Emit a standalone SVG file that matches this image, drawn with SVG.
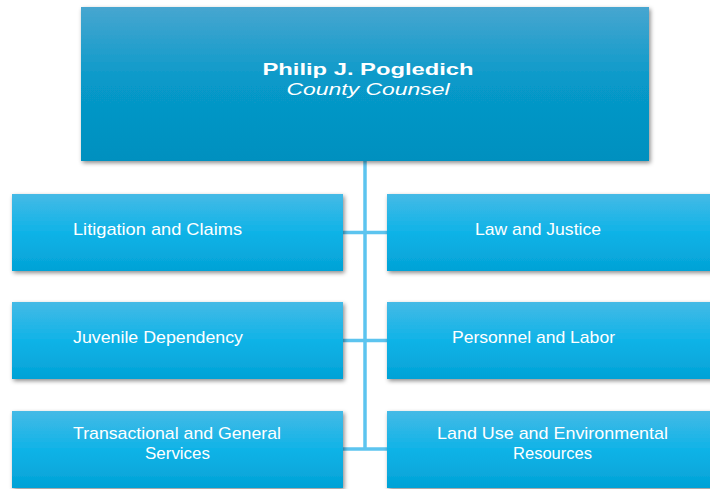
<svg xmlns="http://www.w3.org/2000/svg" width="710" height="489" viewBox="0 0 710 489">
<defs>
<linearGradient id="gTop" x1="0" y1="0" x2="0" y2="1">
<stop offset="0" stop-color="#47a6d0"/>
<stop offset="0.5" stop-color="#0799c9"/>
<stop offset="1" stop-color="#0390bf"/>
</linearGradient>
<linearGradient id="gChild" x1="0" y1="0" x2="0" y2="1">
<stop offset="0" stop-color="#45bae6"/>
<stop offset="0.5" stop-color="#0fb3e7"/>
<stop offset="1" stop-color="#03a2d6"/>
</linearGradient>
<filter id="sh" x="-5%" y="-10%" width="112%" height="125%">
<feDropShadow dx="1.5" dy="2" stdDeviation="2" flood-color="#000" flood-opacity="0.45"/>
</filter>
</defs>
<style>
.box{filter:url(#sh)}
.child{fill:url(#gChild)}
.lbl{font-family:"Liberation Sans",Arial,sans-serif;font-size:17px;fill:#ffffff}
.line{stroke:#5cc4ef;stroke-width:3.5;fill:none}
</style>
<g id="connectors">
<line class="line" x1="365" y1="161" x2="365" y2="450"/>
<line class="line" x1="343" y1="232.5" x2="387" y2="232.5"/>
<line class="line" x1="343" y1="340.5" x2="387" y2="340.5"/>
<line class="line" x1="343" y1="449" x2="387" y2="449"/>
</g>
<g id="county-counsel">
<rect class="box" x="81" y="7" width="568" height="154" fill="url(#gTop)"/>
<text x="368" y="75" text-anchor="middle" font-family="'Liberation Sans',Arial,sans-serif" font-size="17" font-weight="bold" fill="#fff" textLength="211" lengthAdjust="spacingAndGlyphs">Philip J. Pogledich</text>
<text x="368" y="95" text-anchor="middle" font-family="'Liberation Sans',Arial,sans-serif" font-size="16.5" font-style="italic" fill="#fff" textLength="163" lengthAdjust="spacingAndGlyphs">County Counsel</text>
</g>
<g id="litigation">
<rect class="box child" x="12" y="194" width="331" height="77"/>
<text class="lbl" x="73" y="235" textLength="169" lengthAdjust="spacingAndGlyphs">Litigation and Claims</text>
</g>
<g id="law-justice">
<rect class="box child" x="387" y="194" width="330" height="77"/>
<text class="lbl" x="475" y="235" textLength="126" lengthAdjust="spacingAndGlyphs">Law and Justice</text>
</g>
<g id="juvenile">
<rect class="box child" x="12" y="302" width="331" height="77"/>
<text class="lbl" x="73" y="343" textLength="170" lengthAdjust="spacingAndGlyphs">Juvenile Dependency</text>
</g>
<g id="personnel">
<rect class="box child" x="387" y="302" width="330" height="77"/>
<text class="lbl" x="452" y="343" textLength="163" lengthAdjust="spacingAndGlyphs">Personnel and Labor</text>
</g>
<g id="transactional">
<rect class="box child" x="12" y="411" width="331" height="77"/>
<text class="lbl" x="73" y="439" textLength="208" lengthAdjust="spacingAndGlyphs">Transactional and General</text>
<text class="lbl" x="145" y="459" textLength="65" lengthAdjust="spacingAndGlyphs">Services</text>
</g>
<g id="land-use">
<rect class="box child" x="387" y="411" width="330" height="77"/>
<text class="lbl" x="437" y="439" textLength="231" lengthAdjust="spacingAndGlyphs">Land Use and Environmental</text>
<text class="lbl" x="513" y="459" textLength="79" lengthAdjust="spacingAndGlyphs">Resources</text>
</g>
</svg>
